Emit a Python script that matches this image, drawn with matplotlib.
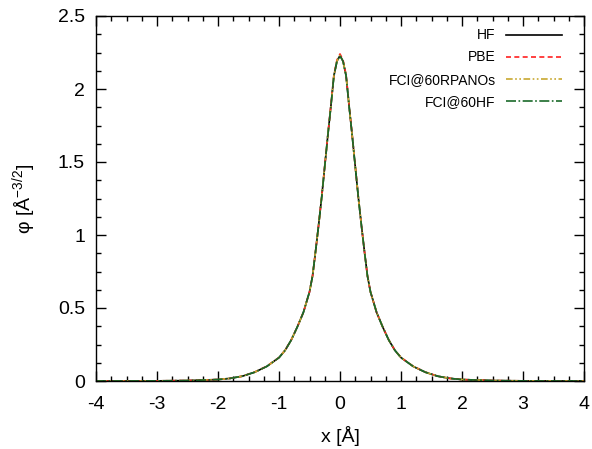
import matplotlib
matplotlib.use("Agg")
import matplotlib.pyplot as plt
from matplotlib.ticker import MultipleLocator

plt.rcParams['font.family'] = ['Liberation Sans', 'DejaVu Sans']
plt.rcParams['mathtext.fontset'] = 'custom'
plt.rcParams['mathtext.rm'] = 'Liberation Sans'
plt.rcParams['mathtext.it'] = 'Liberation Sans:italic'

# ---- data ----
x = [-4.0, -3.5, -3.0, -2.5, -2.0, -1.8, -1.6, -1.4, -1.2, -1.0, -0.9, -0.8,
     -0.7, -0.6, -0.5, -0.45, -0.4, -0.35, -0.3, -0.25, -0.2, -0.15, -0.1,
     -0.05, 0.0, 0.05, 0.1, 0.15, 0.2, 0.25, 0.3, 0.35, 0.4, 0.45, 0.5, 0.6,
     0.7, 0.8, 0.9, 1.0, 1.2, 1.4, 1.6, 1.8, 2.0, 2.5, 3.0, 3.5, 4.0]

phi_hf = [0.0001, 0.0003, 0.001, 0.003, 0.010, 0.018, 0.033, 0.060, 0.100,
          0.160, 0.210, 0.280, 0.370, 0.470, 0.610, 0.720, 0.890, 1.070, 1.260,
          1.470, 1.680, 1.880, 2.090, 2.190, 2.230, 2.190, 2.090, 1.880, 1.680,
          1.470, 1.260, 1.070, 0.890, 0.720, 0.610, 0.470, 0.370, 0.280, 0.210,
          0.160, 0.100, 0.060, 0.033, 0.018, 0.010, 0.003, 0.001, 0.0003, 0.0001]

phi_pbe = [0.0001, 0.0003, 0.001, 0.003, 0.010, 0.018, 0.033, 0.061, 0.101,
           0.161, 0.211, 0.281, 0.370, 0.470, 0.610, 0.720, 0.890, 1.070, 1.262,
           1.472, 1.684, 1.886, 2.096, 2.198, 2.240, 2.198, 2.096, 1.886, 1.684,
           1.472, 1.262, 1.070, 0.890, 0.720, 0.610, 0.470, 0.370, 0.281, 0.211,
           0.161, 0.101, 0.061, 0.033, 0.018, 0.010, 0.003, 0.001, 0.0003, 0.0001]

phi_fci_rpa = [0.0001, 0.0003, 0.001, 0.003, 0.010, 0.018, 0.033, 0.060, 0.100,
               0.160, 0.210, 0.280, 0.370, 0.470, 0.610, 0.720, 0.890, 1.070, 1.260,
               1.470, 1.680, 1.880, 2.090, 2.190, 2.230, 2.190, 2.090, 1.880, 1.680,
               1.470, 1.260, 1.070, 0.890, 0.720, 0.610, 0.470, 0.370, 0.280, 0.210,
               0.160, 0.100, 0.060, 0.033, 0.018, 0.010, 0.003, 0.001, 0.0003, 0.0001]

phi_fci_hf = [0.0001, 0.0003, 0.001, 0.003, 0.010, 0.018, 0.033, 0.060, 0.100,
              0.160, 0.210, 0.280, 0.370, 0.470, 0.610, 0.720, 0.890, 1.070, 1.260,
              1.470, 1.680, 1.880, 2.090, 2.190, 2.228, 2.190, 2.090, 1.880, 1.680,
              1.470, 1.260, 1.070, 0.890, 0.720, 0.610, 0.470, 0.370, 0.280, 0.210,
              0.160, 0.100, 0.060, 0.033, 0.018, 0.010, 0.003, 0.001, 0.0003, 0.0001]

labels = ['HF', 'PBE', 'FCI@60RPANOs', 'FCI@60HF']
x_ticks = [-4, -3, -2, -1, 0, 1, 2, 3, 4]
y_ticks = [0, 0.5, 1, 1.5, 2, 2.5]
y_ticklabels = ['0', '0.5', '1', '1.5', '2', '2.5']

# ---- figure ----
fig = plt.figure(figsize=(5.92, 4.49), dpi=100)
ax = fig.add_axes([96/592, 1 - 381/449, 488/592, 365/449])

ax.plot(x, phi_hf, color='black', lw=1.2, ls='-', label=labels[0])
ax.plot(x, phi_pbe, color='#ff2020', lw=1.2, ls=(0, (3, 2)), label=labels[1])
ax.plot(x, phi_fci_rpa, color='#c8a830', lw=1.2, ls=(0, (4, 1.5, 1, 1.5, 1, 1.5)), label=labels[2])
ax.plot(x, phi_fci_hf, color='#1a6a2a', lw=1.2, ls=(0, (6, 1.5, 1, 1.5)), label=labels[3])

ax.set_xlim(-4, 4)
ax.set_ylim(0, 2.5)
ax.set_xticks(x_ticks)
ax.set_xticklabels([str(t) for t in x_ticks])
ax.set_yticks(y_ticks)
ax.set_yticklabels(y_ticklabels)
ax.xaxis.set_minor_locator(MultipleLocator(0.25))
ax.yaxis.set_minor_locator(MultipleLocator(0.125))

ax.tick_params(which='both', direction='in', top=True, right=True, labelsize=14, width=1.0)
ax.tick_params(which='major', length=7)
ax.tick_params(which='minor', length=3.5)
ax.tick_params(axis='x', which='major', pad=11)
ax.tick_params(axis='y', which='major', pad=8)
for s in ax.spines.values():
    s.set_linewidth(1.0)

ax.set_xlabel('x [Å]', fontsize=14, labelpad=9)
ax.set_ylabel(r'φ [Å$^{-3/2}$]', fontsize=14, labelpad=14)

leg = ax.legend(loc='upper right', bbox_to_anchor=(0.954, 0.966), frameon=False,
                markerfirst=False, fontsize=10, handlelength=4.0,
                handletextpad=0.75, labelspacing=0.58, borderaxespad=0, borderpad=0)

fig.savefig('out.png', dpi=100)
